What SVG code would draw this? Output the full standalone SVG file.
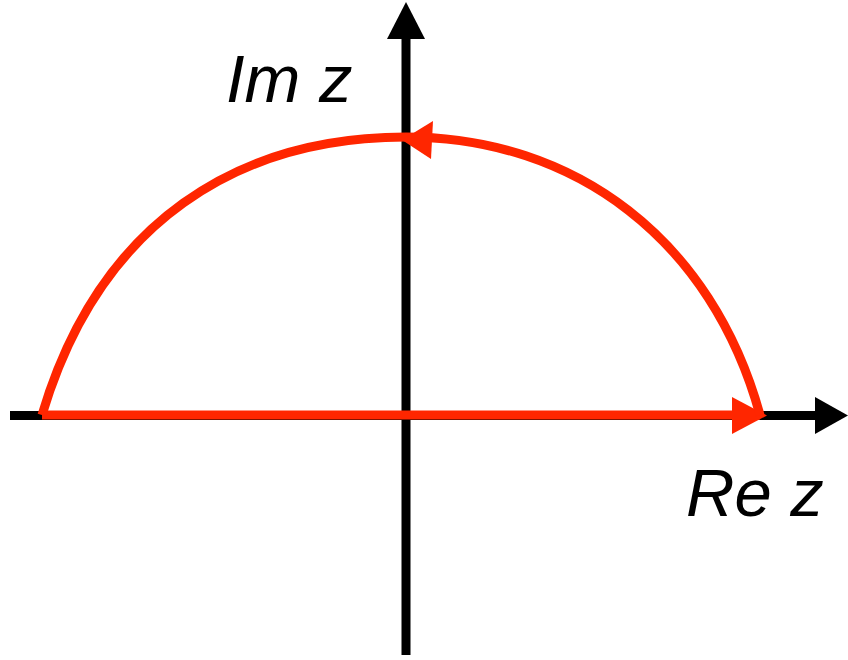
<svg xmlns="http://www.w3.org/2000/svg" width="848" height="660" viewBox="0 0 848 660">
<style>
.axis{stroke:#000;stroke-width:9;fill:none}
.contour{stroke:#FF2600;stroke-width:9;fill:none}
.lbl{font-family:"Liberation Sans",Arial,sans-serif;font-style:italic;font-size:67px;fill:#000}
</style>
<rect width="848" height="660" fill="#fff"/>
<g id="connectors">
<g id="axes">
<line class="axis" x1="406" y1="655" x2="406" y2="36"/>
<polygon points="406,2 387,39 425,39" fill="#000"/>
<line class="axis" x1="10" y1="415.5" x2="818" y2="415.5"/>
<polygon points="848,415.5 815,397 815,434" fill="#000"/>
</g>
<g id="contour">
<path class="contour" d="M42,415 L760,415"/>
<polygon points="767,415.5 732,397 732,434" fill="#FF2600"/>
<path class="contour" d="M42,415 C100,220 240,137 406,137 C575,137 712,240 760,415"/>
<polygon points="402,140 433,121 431,159" fill="#FF2600"/>
</g>
</g>
<g id="label-im"><text class="lbl" x="226" y="102">Im z</text></g>
<g id="label-re"><text class="lbl" x="686" y="516">Re z</text></g>
</svg>
